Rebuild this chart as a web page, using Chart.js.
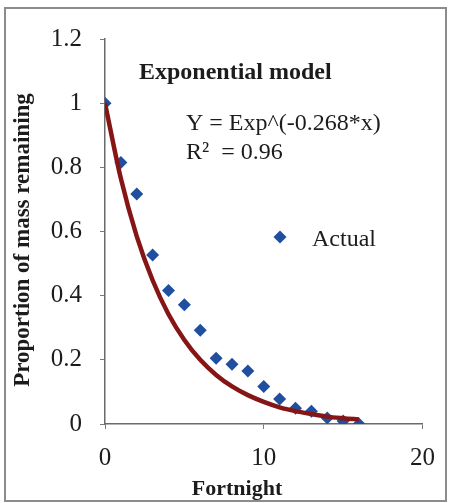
<!DOCTYPE html>
<html>
<head>
<meta charset="utf-8">
<script src="https://cdn.jsdelivr.net/npm/chart.js@4.4.1/dist/chart.umd.min.js"></script>
<style>
  html, body { margin: 0; padding: 0; background: #fff; }
  #wrap { position: relative; width: 449px; height: 503px; }
  #frame { position: absolute; left: 4px; top: 7px; width: 439px; height: 491px; border: 2px solid #8c8c8c; pointer-events: none; }
</style>
</head>
<body>
<div id="wrap">
  <canvas id="massChart"></canvas>
  <div id="frame"></div>
</div>
<script>
// fortnights since the start of the decomposition run
const fortnights = [0, 1, 2, 3, 4, 5, 6, 7, 8, 9, 10, 11, 12, 13, 14, 15, 16];
// measured proportion of mass remaining
const actual = [1.0, 0.815, 0.717, 0.527, 0.416, 0.372, 0.292, 0.205, 0.186, 0.165, 0.117, 0.078, 0.049, 0.040, 0.019, 0.009, 0.0];
// fitted model Y = Exp^(-0.268*x) at the same fortnights
const model = [1.0, 0.765, 0.585, 0.448, 0.342, 0.262, 0.200, 0.153, 0.117, 0.090, 0.069, 0.052, 0.040, 0.031, 0.023, 0.018, 0.014];

const xTicks = [0, 10, 20];
const yTicks = [0, 0.2, 0.4, 0.6, 0.8, 1, 1.2];

const serif = '"Liberation Serif", "Times New Roman", serif';
const ink = '#1c1c1c';
const blue = '#1f4f9e';
const maroon = '#861616';

// title, equation, legend and axis titles drawn on top of the plot
const annotations = {
    id: 'annotations',
    afterDraw(chart) {
        const ctx = chart.ctx;
        const area = chart.chartArea;
        ctx.save();
        ctx.fillStyle = ink;
        ctx.textBaseline = 'middle';
        ctx.textAlign = 'left';

        ctx.font = 'bold 24px ' + serif;
        ctx.fillText('Exponential model', area.left + 34, 73);

        ctx.font = '24px ' + serif;
        ctx.fillText('Y = Exp^(-0.268*x)', area.left + 81, 124);
        ctx.fillText('R\u00B2  = 0.96', area.left + 81, 153);

        // legend entry for the measured points
        ctx.fillStyle = blue;
        Chart.helpers.drawPoint(ctx, {
            pointStyle: 'rectRot', radius: 6.5, borderWidth: 0
        }, area.left + 175, 237);
        ctx.fillStyle = ink;
        ctx.fillText('Actual', area.left + 207, 240);

        // axis titles
        ctx.font = 'bold 22px ' + serif;
        ctx.textAlign = 'center';
        ctx.fillText('Fortnight', 237, 489);
        ctx.font = 'bold 23px ' + serif;
        ctx.translate(23, 240);
        ctx.rotate(-Math.PI / 2);
        ctx.fillText('Proportion of mass remaining', 0, 0);
        ctx.restore();
    }
};

const ctx = document.getElementById('massChart').getContext('2d');
new Chart(ctx, {
    type: 'scatter',
    data: {
        datasets: [{
            type: 'line',
            label: 'Exponential model',
            data: fortnights.map((x, i) => ({ x: x, y: model[i] })),
            borderColor: maroon,
            borderWidth: 4.5,
            pointRadius: 0,
            cubicInterpolationMode: 'monotone',
            fill: false,
            order: 0
        }, {
            label: 'Actual',
            data: fortnights.map((x, i) => ({ x: x, y: actual[i] })),
            pointStyle: 'rectRot',
            pointRadius: 6.5,
            pointBorderWidth: 0,
            backgroundColor: blue,
            borderColor: blue,
            order: 1
        }]
    },
    options: {
        responsive: true,
        maintainAspectRatio: false,
        animation: false,
        layout: { padding: { top: 39, right: 25, left: 0, bottom: 0 } },
        plugins: {
            legend: { display: false },
            tooltip: { enabled: false }
        },
        scales: {
            x: {
                type: 'linear',
                min: 0,
                max: 20,
                afterBuildTicks: s => { s.ticks = xTicks.map(v => ({ value: v })); },
                afterFit: s => { s.height = 79; },
                grid: { drawOnChartArea: false, drawTicks: true, tickLength: 5, color: '#7a7a7a' },
                border: { color: '#6a6a6a', width: 1.5 },
                ticks: { font: { family: serif, size: 25 }, color: ink, padding: 14, maxRotation: 0,
                         callback: v => String(v) }
            },
            y: {
                min: 0,
                max: 1.2,
                afterBuildTicks: s => { s.ticks = yTicks.map(v => ({ value: v })); },
                afterFit: s => { s.width = 105; },
                grid: { drawOnChartArea: false, drawTicks: true, tickLength: 5, color: '#7a7a7a' },
                border: { color: '#6a6a6a', width: 1.5 },
                ticks: { font: { family: serif, size: 25 }, color: ink, padding: 18,
                         callback: v => String(+v.toFixed(1)) }
            }
        }
    },
    plugins: [annotations]
});
</script>
</body>
</html>
